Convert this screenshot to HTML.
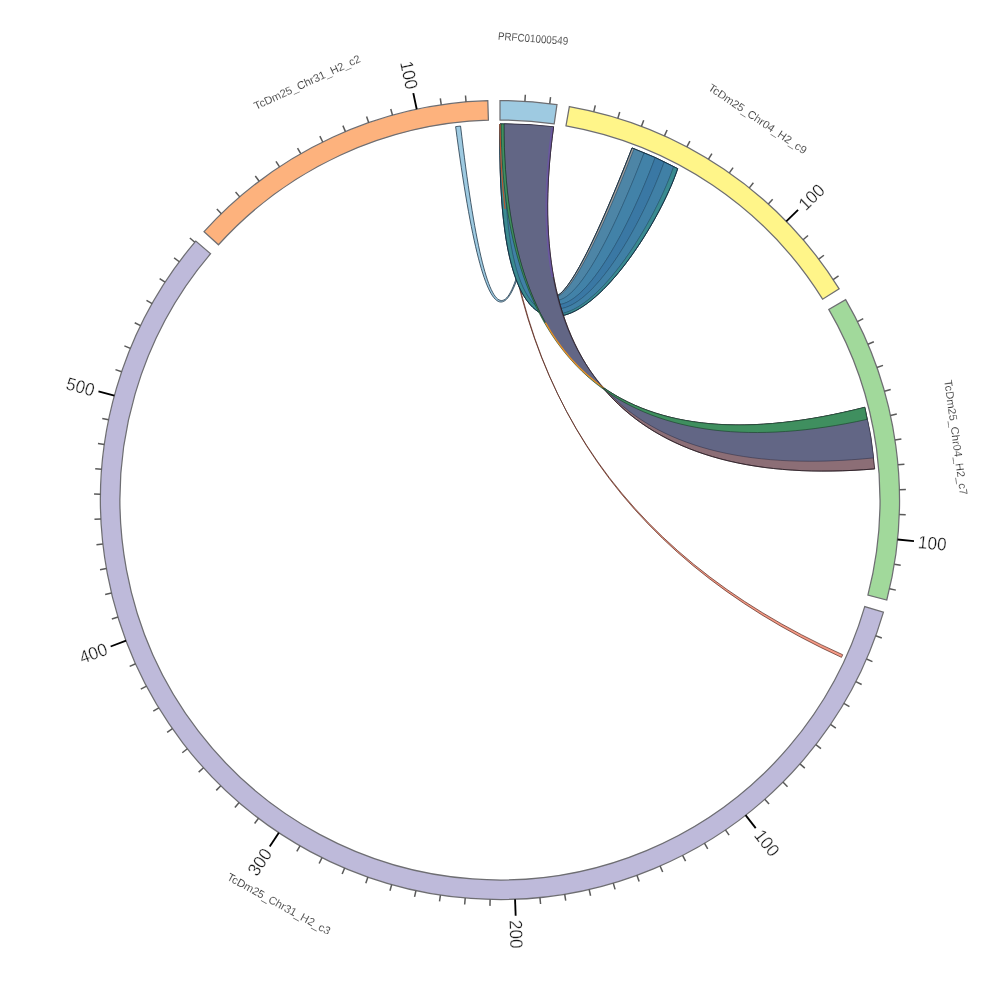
<!DOCTYPE html><html><head><meta charset="utf-8"><title>circos</title>
<style>html,body{margin:0;padding:0;background:#fff}svg{display:block}text{font-family:"Liberation Sans",sans-serif}</style></head><body>
<svg width="1000" height="1000" viewBox="0 0 1000 1000">
<rect width="1000" height="1000" fill="#fff"/>
<path d="M500.00 124.00 C501.27 375.60 615.50 552.51 842.69 654.73 A376 376 0 0 1 841.49 657.36 C615.10 553.39 501.70 375.60 501.31 124.00 A376 376 0 0 0 500.00 124.00 Z" fill="#f59a86" stroke="#55261c" stroke-width="0.7" stroke-linejoin="round" opacity="1"/>
<path d="M455.61 126.63 C486.20 360.48 516.06 360.51 545.17 126.72 A376 376 0 0 0 542.56 126.42 C515.19 358.67 487.86 358.56 460.57 126.07 A376 376 0 0 0 455.61 126.63 Z" fill="#9ecae1" stroke="#22384a" stroke-width="0.8" stroke-linejoin="round" opacity="1"/>
<path d="M552.33 127.66 C525.24 346.42 551.82 353.18 632.05 147.95 A376 376 0 0 1 677.68 168.63 C648.30 257.10 494.10 474.00 500.00 124.00 A376 376 0 0 1 552.33 127.66 Z" fill="#4080a6" stroke="#10283a" stroke-width="0.8" stroke-linejoin="round" opacity="1"/>
<path d="M552.33 127.66 C525.24 346.42 551.82 353.18 632.05 147.95 A376 376 0 0 1 634.16 148.75 C556.16 348.86 523.84 352.16 549.99 127.34 A376 376 0 0 1 552.33 127.66 Z" fill="#9c9c9c" stroke="#1c3a50" stroke-width="0.35" stroke-linejoin="round" opacity="1"/>
<path d="M549.99 127.34 C523.84 352.16 556.16 348.86 634.16 148.75 A376 376 0 0 1 644.17 152.74 C576.90 328.20 517.15 379.59 538.78 126.01 A376 376 0 0 1 549.99 127.34 Z" fill="#4d85a6" stroke="#1c3a50" stroke-width="0.35" stroke-linejoin="round" opacity="1"/>
<path d="M538.78 126.01 C517.15 379.59 576.90 328.20 644.17 152.74 A376 376 0 0 1 655.21 157.53 C600.06 305.14 509.67 410.21 526.23 124.92 A376 376 0 0 1 538.78 126.01 Z" fill="#4282a8" stroke="#1c3a50" stroke-width="0.35" stroke-linejoin="round" opacity="1"/>
<path d="M526.23 124.92 C509.67 410.21 600.06 305.14 655.21 157.53 A376 376 0 0 1 664.28 161.79 C619.35 285.92 503.44 435.73 515.75 124.33 A376 376 0 0 1 526.23 124.92 Z" fill="#3a78a4" stroke="#1c3a50" stroke-width="0.35" stroke-linejoin="round" opacity="1"/>
<path d="M515.75 124.33 C503.44 435.73 619.35 285.92 664.28 161.79 A376 376 0 0 1 673.69 166.52 C639.62 265.75 496.90 462.52 504.72 124.03 A376 376 0 0 1 515.75 124.33 Z" fill="#4080a6" stroke="#1c3a50" stroke-width="0.35" stroke-linejoin="round" opacity="1"/>
<path d="M504.72 124.03 C496.90 462.52 639.62 265.75 673.69 166.52 A376 376 0 0 1 677.68 168.63 C648.30 257.10 494.10 474.00 500.00 124.00 A376 376 0 0 1 504.72 124.03 Z" fill="#3a8a90" stroke="#1c3a50" stroke-width="0.35" stroke-linejoin="round" opacity="1"/>
<path d="M552.33 127.66 C525.24 346.42 551.82 353.18 632.05 147.95 A376 376 0 0 1 677.68 168.63 C648.30 257.10 494.10 474.00 500.00 124.00 A376 376 0 0 1 552.33 127.66 Z" fill="none" stroke="#10283a" stroke-width="0.8" stroke-linejoin="round" opacity="1"/>
<path d="M504.00 124.00 C504.10 377.30 631.40 466.70 864.80 407.30 A376 376 0 0 1 874.70 468.90 C640.40 488.60 518.50 377.10 553.60 126.80 A376 376 0 0 0 504.00 124.00 Z" fill="#8c6e76" stroke="#2a1c24" stroke-width="0.8" stroke-linejoin="round" opacity="1"/>
<path d="M504.00 124.00 C504.10 377.30 631.40 466.70 864.80 407.30 A376 376 0 0 1 873.60 457.90 C634.80 482.00 518.50 377.10 553.60 126.80 A376 376 0 0 0 504.00 124.00 Z" fill="#626685" stroke="#2a2a40" stroke-width="0.5" stroke-linejoin="round" opacity="1"/>
<path d="M504.00 124.00 C504.10 377.30 631.40 466.70 864.80 407.30 A376 376 0 0 1 867.00 419.40 C638.20 469.50 501.50 377.30 501.20 124.00 A376 376 0 0 1 504.00 124.00 Z" fill="#3f8f5f" stroke="#183c26" stroke-width="0.6" stroke-linejoin="round" opacity="1"/>
<path d="M552.46 127.68 C517.40 377.10 640.00 488.60 874.70 468.90" fill="none" stroke="#6a58a0" stroke-width="2.2" stroke-dasharray="150 3000"/>
<path d="M504.00 124.00 C504.10 377.30 631.40 466.70 864.80 407.30" fill="none" stroke="#e8902a" stroke-width="1.3" stroke-dasharray="0 205 88 2000"/>
<path d="M553.60 126.80 C518.50 377.10 640.40 488.60 874.70 468.90" fill="none" stroke="#2a1c24" stroke-width="0.6"/>
<path d="M500.00 124.00 C501.27 375.60 615.50 552.51 842.69 654.73" fill="none" stroke="#b8552e" stroke-width="1.2" stroke-dasharray="85 3000"/>
<path d="M500.00 100.50 A399.5 399.5 0 0 1 556.98 104.58 L554.20 123.89 A380 380 0 0 0 500.00 120.00 Z" fill="#9ecae1" stroke="#6e6e72" stroke-width="1.25" stroke-linejoin="miter"/>
<path d="M524.92 101.28 L525.33 94.79" stroke="#5a5a5a" stroke-width="1.5"/>
<path d="M549.75 103.61 L550.56 97.16" stroke="#5a5a5a" stroke-width="1.5"/>
<text x="533.09" y="38.38" transform="rotate(4.10 533.09 38.38)" text-anchor="middle" font-size="11" dy="0.36em" fill="#333" stroke="#fff" stroke-width="0.12" textLength="70.4" lengthAdjust="spacingAndGlyphs">PRFC01000549</text>
<path d="M569.37 106.57 A399.5 399.5 0 0 1 839.16 288.89 L822.61 299.19 A380 380 0 0 0 565.99 125.77 Z" fill="#fff589" stroke="#6e6e72" stroke-width="1.25" stroke-linejoin="miter"/>
<path d="M593.78 111.66 L595.31 105.35" stroke="#5a5a5a" stroke-width="1.5"/>
<path d="M617.83 118.27 L619.75 112.06" stroke="#5a5a5a" stroke-width="1.5"/>
<path d="M641.42 126.37 L643.72 120.29" stroke="#5a5a5a" stroke-width="1.5"/>
<path d="M664.45 135.92 L667.13 129.99" stroke="#5a5a5a" stroke-width="1.5"/>
<path d="M686.85 146.89 L689.89 141.14" stroke="#5a5a5a" stroke-width="1.5"/>
<path d="M708.51 159.23 L711.90 153.69" stroke="#5a5a5a" stroke-width="1.5"/>
<path d="M729.37 172.90 L733.10 167.58" stroke="#5a5a5a" stroke-width="1.5"/>
<path d="M749.33 187.85 L753.38 182.77" stroke="#5a5a5a" stroke-width="1.5"/>
<path d="M768.32 204.02 L772.68 199.20" stroke="#5a5a5a" stroke-width="1.5"/>
<path d="M786.26 221.33 L798.08 209.82" stroke="#000" stroke-width="1.85"/>
<text x="801.16" y="206.82" transform="rotate(-44.23 801.16 206.82)" text-anchor="start" font-size="18" dy="0.36em" fill="#151515" stroke="#fff" stroke-width="0.28" textLength="28.5" lengthAdjust="spacingAndGlyphs">100</text>
<path d="M803.09 239.74 L808.02 235.50" stroke="#5a5a5a" stroke-width="1.5"/>
<path d="M818.74 259.15 L823.92 255.23" stroke="#5a5a5a" stroke-width="1.5"/>
<path d="M833.14 279.51 L838.56 275.92" stroke="#5a5a5a" stroke-width="1.5"/>
<text x="757.73" y="118.62" transform="rotate(34.05 757.73 118.62)" text-anchor="middle" font-size="11" dy="0.36em" fill="#333" stroke="#fff" stroke-width="0.12" textLength="116" lengthAdjust="spacingAndGlyphs">TcDm25_Chr04_H2_c9</text>
<path d="M845.63 299.65 A399.5 399.5 0 0 1 886.77 600.03 L867.90 595.14 A380 380 0 0 0 828.76 309.43 Z" fill="#a1d99b" stroke="#6e6e72" stroke-width="1.25" stroke-linejoin="miter"/>
<path d="M857.45 321.60 L863.27 318.70" stroke="#5a5a5a" stroke-width="1.5"/>
<path d="M867.89 344.25 L873.87 341.72" stroke="#5a5a5a" stroke-width="1.5"/>
<path d="M876.89 367.51 L883.02 365.35" stroke="#5a5a5a" stroke-width="1.5"/>
<path d="M884.42 391.28 L890.68 389.51" stroke="#5a5a5a" stroke-width="1.5"/>
<path d="M890.46 415.47 L896.81 414.10" stroke="#5a5a5a" stroke-width="1.5"/>
<path d="M894.97 440.00 L901.39 439.02" stroke="#5a5a5a" stroke-width="1.5"/>
<path d="M897.94 464.76 L904.42 464.18" stroke="#5a5a5a" stroke-width="1.5"/>
<path d="M899.37 489.65 L905.86 489.49" stroke="#5a5a5a" stroke-width="1.5"/>
<path d="M899.23 514.59 L905.73 514.83" stroke="#5a5a5a" stroke-width="1.5"/>
<path d="M897.55 539.47 L913.96 541.10" stroke="#000" stroke-width="1.85"/>
<text x="918.24" y="541.53" transform="rotate(5.67 918.24 541.53)" text-anchor="start" font-size="18" dy="0.36em" fill="#151515" stroke="#fff" stroke-width="0.28" textLength="28.5" lengthAdjust="spacingAndGlyphs">100</text>
<path d="M894.31 564.20 L900.72 565.24" stroke="#5a5a5a" stroke-width="1.5"/>
<path d="M889.54 588.67 L895.87 590.11" stroke="#5a5a5a" stroke-width="1.5"/>
<text x="956.04" y="437.53" transform="rotate(82.20 956.04 437.53)" text-anchor="middle" font-size="11" dy="0.36em" fill="#333" stroke="#fff" stroke-width="0.12" textLength="116" lengthAdjust="spacingAndGlyphs">TcDm25_Chr04_H2_c7</text>
<path d="M883.44 612.13 A399.5 399.5 0 1 1 195.77 241.08 L210.62 253.71 A380 380 0 1 0 864.73 606.65 Z" fill="#bebada" stroke="#6e6e72" stroke-width="1.25" stroke-linejoin="miter"/>
<path d="M875.70 635.83 L881.81 638.04" stroke="#5a5a5a" stroke-width="1.5"/>
<path d="M866.49 659.01 L872.46 661.59" stroke="#5a5a5a" stroke-width="1.5"/>
<path d="M855.86 681.56 L861.65 684.52" stroke="#5a5a5a" stroke-width="1.5"/>
<path d="M843.84 703.41 L849.43 706.72" stroke="#5a5a5a" stroke-width="1.5"/>
<path d="M830.48 724.47 L835.85 728.12" stroke="#5a5a5a" stroke-width="1.5"/>
<path d="M815.83 744.65 L820.97 748.63" stroke="#5a5a5a" stroke-width="1.5"/>
<path d="M799.95 763.87 L804.83 768.17" stroke="#5a5a5a" stroke-width="1.5"/>
<path d="M782.90 782.07 L787.51 786.66" stroke="#5a5a5a" stroke-width="1.5"/>
<path d="M764.75 799.18 L769.06 804.04" stroke="#5a5a5a" stroke-width="1.5"/>
<path d="M745.57 815.11 L755.71 828.13" stroke="#000" stroke-width="1.85"/>
<text x="758.36" y="831.52" transform="rotate(52.07 758.36 831.52)" text-anchor="start" font-size="18" dy="0.36em" fill="#151515" stroke="#fff" stroke-width="0.28" textLength="28.5" lengthAdjust="spacingAndGlyphs">100</text>
<path d="M725.43 829.82 L729.10 835.18" stroke="#5a5a5a" stroke-width="1.5"/>
<path d="M704.42 843.24 L707.74 848.82" stroke="#5a5a5a" stroke-width="1.5"/>
<path d="M682.60 855.33 L685.58 861.11" stroke="#5a5a5a" stroke-width="1.5"/>
<path d="M660.08 866.03 L662.68 871.98" stroke="#5a5a5a" stroke-width="1.5"/>
<path d="M636.93 875.30 L639.16 881.41" stroke="#5a5a5a" stroke-width="1.5"/>
<path d="M613.25 883.11 L615.09 889.35" stroke="#5a5a5a" stroke-width="1.5"/>
<path d="M589.13 889.43 L590.58 895.77" stroke="#5a5a5a" stroke-width="1.5"/>
<path d="M564.66 894.23 L565.71 900.65" stroke="#5a5a5a" stroke-width="1.5"/>
<path d="M539.93 897.50 L540.58 903.97" stroke="#5a5a5a" stroke-width="1.5"/>
<path d="M515.06 899.22 L515.68 915.70" stroke="#000" stroke-width="1.85"/>
<text x="515.84" y="920.00" transform="rotate(87.84 515.84 920.00)" text-anchor="start" font-size="18" dy="0.36em" fill="#151515" stroke="#fff" stroke-width="0.28" textLength="28.5" lengthAdjust="spacingAndGlyphs">200</text>
<path d="M490.12 899.38 L489.96 905.88" stroke="#5a5a5a" stroke-width="1.5"/>
<path d="M465.22 897.98 L464.66 904.46" stroke="#5a5a5a" stroke-width="1.5"/>
<path d="M440.46 895.04 L439.49 901.47" stroke="#5a5a5a" stroke-width="1.5"/>
<path d="M415.93 890.55 L414.56 896.91" stroke="#5a5a5a" stroke-width="1.5"/>
<path d="M391.73 884.55 L389.97 890.80" stroke="#5a5a5a" stroke-width="1.5"/>
<path d="M367.95 877.04 L365.80 883.18" stroke="#5a5a5a" stroke-width="1.5"/>
<path d="M344.68 868.07 L342.15 874.06" stroke="#5a5a5a" stroke-width="1.5"/>
<path d="M322.02 857.66 L319.12 863.48" stroke="#5a5a5a" stroke-width="1.5"/>
<path d="M300.05 845.86 L296.80 851.49" stroke="#5a5a5a" stroke-width="1.5"/>
<path d="M278.86 832.71 L269.73 846.46" stroke="#000" stroke-width="1.85"/>
<text x="267.35" y="850.04" transform="rotate(303.61 267.35 850.04)" text-anchor="end" font-size="18" dy="0.36em" fill="#151515" stroke="#fff" stroke-width="0.28" textLength="28.5" lengthAdjust="spacingAndGlyphs">300</text>
<path d="M258.53 818.27 L254.61 823.45" stroke="#5a5a5a" stroke-width="1.5"/>
<path d="M239.15 802.58 L234.90 807.51" stroke="#5a5a5a" stroke-width="1.5"/>
<path d="M220.78 785.72 L216.24 790.37" stroke="#5a5a5a" stroke-width="1.5"/>
<path d="M203.50 767.74 L198.67 772.10" stroke="#5a5a5a" stroke-width="1.5"/>
<path d="M187.37 748.72 L182.28 752.77" stroke="#5a5a5a" stroke-width="1.5"/>
<path d="M172.46 728.73 L167.13 732.45" stroke="#5a5a5a" stroke-width="1.5"/>
<path d="M158.83 707.85 L153.28 711.23" stroke="#5a5a5a" stroke-width="1.5"/>
<path d="M146.53 686.16 L140.77 689.19" stroke="#5a5a5a" stroke-width="1.5"/>
<path d="M135.60 663.75 L129.67 666.41" stroke="#5a5a5a" stroke-width="1.5"/>
<path d="M126.09 640.69 L110.65 646.50" stroke="#000" stroke-width="1.85"/>
<text x="106.63" y="648.02" transform="rotate(339.38 106.63 648.02)" text-anchor="end" font-size="18" dy="0.36em" fill="#151515" stroke="#fff" stroke-width="0.28" textLength="28.5" lengthAdjust="spacingAndGlyphs">400</text>
<path d="M118.04 617.09 L111.83 618.99" stroke="#5a5a5a" stroke-width="1.5"/>
<path d="M111.48 593.03 L105.16 594.54" stroke="#5a5a5a" stroke-width="1.5"/>
<path d="M106.44 568.61 L100.03 569.73" stroke="#5a5a5a" stroke-width="1.5"/>
<path d="M102.92 543.92 L96.46 544.64" stroke="#5a5a5a" stroke-width="1.5"/>
<path d="M100.96 519.06 L94.46 519.37" stroke="#5a5a5a" stroke-width="1.5"/>
<path d="M100.54 494.13 L94.04 494.03" stroke="#5a5a5a" stroke-width="1.5"/>
<path d="M101.69 469.22 L95.21 468.72" stroke="#5a5a5a" stroke-width="1.5"/>
<path d="M104.38 444.43 L97.95 443.52" stroke="#5a5a5a" stroke-width="1.5"/>
<path d="M108.62 419.85 L102.25 418.55" stroke="#5a5a5a" stroke-width="1.5"/>
<path d="M114.38 395.59 L98.46 391.28" stroke="#000" stroke-width="1.85"/>
<text x="94.31" y="390.16" transform="rotate(375.15 94.31 390.16)" text-anchor="end" font-size="18" dy="0.36em" fill="#151515" stroke="#fff" stroke-width="0.28" textLength="28.5" lengthAdjust="spacingAndGlyphs">500</text>
<path d="M121.65 371.74 L115.49 369.65" stroke="#5a5a5a" stroke-width="1.5"/>
<path d="M130.39 348.38 L124.38 345.91" stroke="#5a5a5a" stroke-width="1.5"/>
<path d="M140.57 325.62 L134.72 322.78" stroke="#5a5a5a" stroke-width="1.5"/>
<path d="M152.15 303.53 L146.49 300.34" stroke="#5a5a5a" stroke-width="1.5"/>
<path d="M165.08 282.21 L159.63 278.67" stroke="#5a5a5a" stroke-width="1.5"/>
<path d="M179.32 261.74 L174.11 257.86" stroke="#5a5a5a" stroke-width="1.5"/>
<path d="M194.81 242.20 L189.85 238.00" stroke="#5a5a5a" stroke-width="1.5"/>
<text x="278.95" y="903.75" transform="rotate(388.70 278.95 903.75)" text-anchor="middle" font-size="11" dy="0.36em" fill="#333" stroke="#fff" stroke-width="0.12" textLength="116" lengthAdjust="spacingAndGlyphs">TcDm25_Chr31_H2_c3</text>
<path d="M204.05 231.65 A399.5 399.5 0 0 1 487.80 100.69 L488.40 120.18 A380 380 0 0 0 218.49 244.75 Z" fill="#fdb27d" stroke="#6e6e72" stroke-width="1.25" stroke-linejoin="miter"/>
<path d="M221.37 213.71 L216.83 209.05" stroke="#5a5a5a" stroke-width="1.5"/>
<path d="M239.77 196.88 L235.54 191.95" stroke="#5a5a5a" stroke-width="1.5"/>
<path d="M259.19 181.23 L255.27 176.05" stroke="#5a5a5a" stroke-width="1.5"/>
<path d="M279.55 166.83 L275.96 161.41" stroke="#5a5a5a" stroke-width="1.5"/>
<path d="M300.76 153.73 L297.52 148.09" stroke="#5a5a5a" stroke-width="1.5"/>
<path d="M322.76 141.97 L319.87 136.15" stroke="#5a5a5a" stroke-width="1.5"/>
<path d="M345.44 131.61 L342.92 125.62" stroke="#5a5a5a" stroke-width="1.5"/>
<path d="M368.72 122.68 L366.59 116.55" stroke="#5a5a5a" stroke-width="1.5"/>
<path d="M392.52 115.23 L390.77 108.97" stroke="#5a5a5a" stroke-width="1.5"/>
<path d="M416.73 109.27 L413.30 93.14" stroke="#000" stroke-width="1.85"/>
<text x="412.40" y="88.93" transform="rotate(437.97 412.40 88.93)" text-anchor="end" font-size="18" dy="0.36em" fill="#151515" stroke="#fff" stroke-width="0.28" textLength="28.5" lengthAdjust="spacingAndGlyphs">100</text>
<path d="M441.27 104.84 L440.32 98.41" stroke="#5a5a5a" stroke-width="1.5"/>
<path d="M466.04 101.95 L465.49 95.47" stroke="#5a5a5a" stroke-width="1.5"/>
<text x="307.11" y="82.07" transform="rotate(335.23 307.11 82.07)" text-anchor="middle" font-size="11" dy="0.36em" fill="#333" stroke="#fff" stroke-width="0.12" textLength="116" lengthAdjust="spacingAndGlyphs">TcDm25_Chr31_H2_c2</text>
</svg></body></html>
